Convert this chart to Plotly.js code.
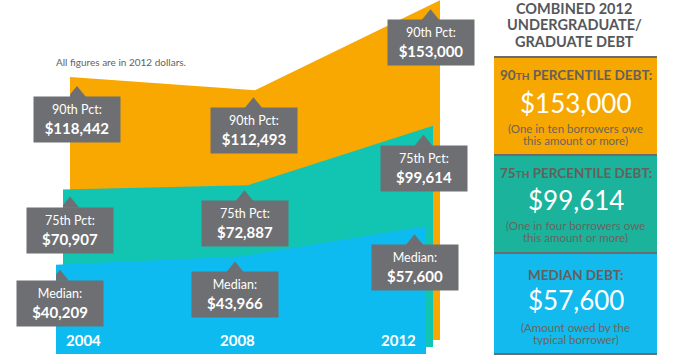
<!DOCTYPE html>
<html>
<head>
<meta charset="utf-8">
<script src="https://cdn.plot.ly/plotly-3.0.1.min.js"></script>
<style>html,body{margin:0;padding:0;background:#fff;}#chart{width:700px;height:360px;}</style>
</head>
<body>
<div id="chart"></div>
<script>
// ---- data ----
const years = [2004, 2008, 2012];
const p90 = [118442, 112493, 153000];
const p75 = [70907, 72887, 99614];
const median = [40209, 43966, 57600];
const seriesLabels = ['90th Pct:', '75th Pct:', 'Median:'];
const panelHeads = ['90<span style="font-size:10px">TH</span> PERCENTILE DEBT:', '75<span style="font-size:10px">TH</span> PERCENTILE DEBT:', 'MEDIAN DEBT:'];
const panelNotes = [['(One in ten borrowers owe', 'this amount or more)'], ['(One in four borrowers owe', 'this amount or more)'], ['(Amount owed by the', 'typical borrower)']];
const titleLines = ['COMBINED 2012', 'UNDERGRADUATE/', 'GRADUATE DEBT'];
const noteText = 'All figures are in 2012 dollars.';

// ---- style / layout ----
const W = 700, H = 360;
const K = 0.00222; // px per dollar
const FONT = 'Lato, "Open Sans", sans-serif';
const colors = ['#F8A800', '#12C4B2', '#0DBBF0'];
const panelColors = ['#F6A700', '#1BB39C', '#12BAEE'];
const boxGray = '#6e6f72';
const layers = [ // left, right, bottom (px)
  {l: 70, r: 440, b: 340},
  {l: 63, r: 433, b: 347},
  {l: 56, r: 426, b: 354}
];
const series = [p90, p75, median];
// callout offsets: [dx, dy] from data point to box center-x / box-top
const offs = [
  [[7, 19], [-1.5, 17], [-9.5, 19]],
  [[7, 17], [-3.5, 15], [-9.5, 19]],
  [[4, 15], [-6, 15], [-11.5, 18]]
];
const fmt = v => '$' + v.toLocaleString('en-US');

const traces = [];
const layout = {
  width: W, height: H,
  margin: {l: 0, r: 0, t: 0, b: 0},
  paper_bgcolor: '#fff', plot_bgcolor: 'rgba(0,0,0,0)',
  showlegend: false,
  annotations: [], shapes: [],
  font: {family: FONT}
};

layers.forEach((L, i) => {
  const sx = i === 0 ? '' : String(i + 1);
  traces.push({
    type: 'scatter', mode: 'lines', x: years, y: series[i],
    xaxis: 'x' + sx, yaxis: 'y' + sx,
    fill: 'tozeroy', fillcolor: colors[i],
    line: {width: 0, color: colors[i]}, hoverinfo: 'skip'
  });
  layout['xaxis' + sx] = {domain: [L.l / W, L.r / W], range: [years[0], years[2]], visible: false, fixedrange: true, anchor: 'y' + sx};
  layout['yaxis' + sx] = {domain: [(H - L.b) / H, 1], range: [0, L.b / K], visible: false, fixedrange: true, anchor: 'x' + sx};

  years.forEach((yr, j) => {
    const [dx, dy] = offs[i][j];
    layout.shapes.push({
      type: 'path', xref: 'x' + sx, yref: 'y' + sx,
      xsizemode: 'pixel', ysizemode: 'pixel', xanchor: yr, yanchor: series[i][j],
      path: `M ${dx - 9},${-(dy + 1)} L ${dx},${-(dy - 10)} L ${dx + 9},${-(dy + 1)} Z`,
      fillcolor: boxGray, line: {width: 0}, layer: 'above'
    });
    layout.annotations.push({
      xref: 'x' + sx, yref: 'y' + sx, x: yr, y: series[i][j],
      xanchor: 'center', yanchor: 'top', xshift: dx, yshift: -dy,
      showarrow: false, width: 86, height: 45, bgcolor: boxGray, borderpad: 0,
      align: 'center', valign: 'middle',
      text: `<span style="font-size:12.5px">${seriesLabels[i]}</span><br><b>${fmt(series[i][j])}</b>`,
      font: {family: FONT, size: 15, color: '#fff'}
    });
  });
});

// year labels on the front layer
const yearShift = [27, -4, -28];
years.forEach((yr, j) => {
  layout.annotations.push({
    xref: 'x3', yref: 'y3', x: yr, y: 0, xanchor: 'center', yanchor: 'middle',
    xshift: yearShift[j], yshift: 14, showarrow: false,
    text: '<b>' + yr + '</b>', font: {family: FONT, size: 15, color: '#fff'}
  });
});

// note
layout.annotations.push({
  xref: 'paper', yref: 'paper', x: 54 / W, y: 1 - 62 / H, xanchor: 'left', yanchor: 'middle',
  showarrow: false, text: noteText, font: {family: FONT, size: 10, color: '#5f5f5f'}
});

// title
titleLines.forEach((t, k) => {
  layout.annotations.push({
    xref: 'paper', yref: 'paper', x: 574 / W, y: 1 - (8 + k * 16.5) / H, xanchor: 'center', yanchor: 'middle',
    showarrow: false, text: '<b>' + t + '</b>', height: 15, font: {family: FONT, size: 14.5, color: '#55575b'}
  });
});

// right panel
const pTop = [57, 155, 253, 354];
const pL = 494, pR = 657;
const panelVals = [p90[2], p75[2], median[2]];
const textOff = [[18, 46, 71, 83], [18, 45, 70, 82], [22, 47, 74, 86]];
for (let i = 0; i < 3; i++) {
  layout.shapes.push({
    type: 'rect', xref: 'paper', yref: 'paper', x0: pL / W, x1: pR / W,
    y0: 1 - pTop[i + 1] / H, y1: 1 - pTop[i] / H, fillcolor: panelColors[i], line: {width: 0}, layer: 'below'
  });
  const o = textOff[i], t0 = pTop[i], cx = (pL + pR) / 2 / W;
  const add = (txt, yy, size, color, h) => layout.annotations.push({
    xref: 'paper', yref: 'paper', x: cx, y: 1 - (t0 + yy) / H, xanchor: 'center', yanchor: 'middle',
    showarrow: false, text: txt, height: h, font: {family: FONT, size: size, color: color}
  });
  add('<b>' + panelHeads[i] + '</b>', o[0], 13.5, '#66605a', 18);
  add(fmt(panelVals[i]), o[1], 26, '#fff', 30);
  add(panelNotes[i][0], o[2], 11.5, '#6a6560', 12);
  add(panelNotes[i][1], o[3], 11.5, '#6a6560', 12);
}
pTop.forEach(y => {
  layout.shapes.push({
    type: 'line', xref: 'paper', yref: 'paper', x0: pL / W, x1: pR / W, y0: 1 - y / H, y1: 1 - y / H,
    line: {color: '#6c6c6c', width: 2}, layer: 'above'
  });
});

Plotly.newPlot('chart', traces, layout, {staticPlot: true, displayModeBar: false});
</script>
</body>
</html>
